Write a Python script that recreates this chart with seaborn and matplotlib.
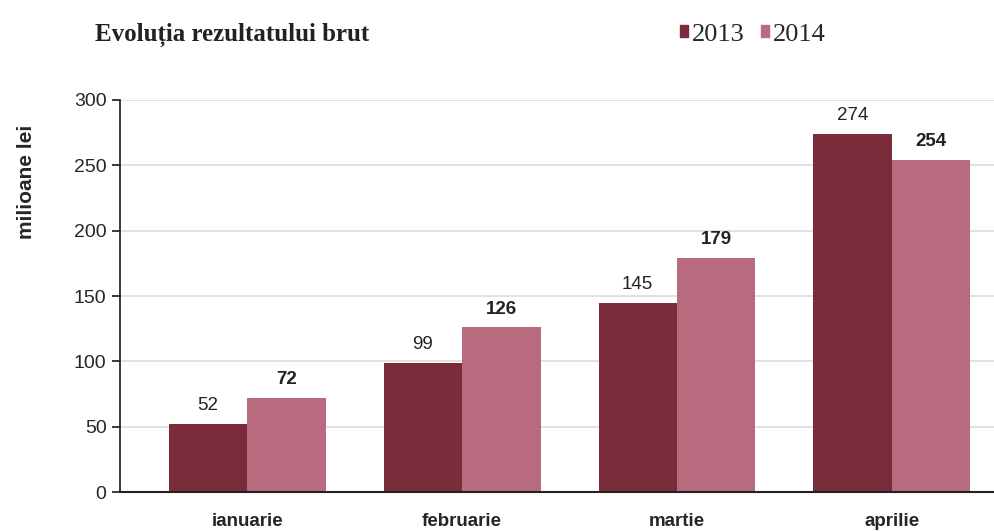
import pandas as pd
import matplotlib
matplotlib.use("Agg")
import matplotlib.pyplot as plt
import seaborn as sns

# data
luni = ["ianuarie", "februarie", "martie", "aprilie"]
ani = ["2013", "2014"]
val_2013 = [52, 99, 145, 274]
val_2014 = [72, 126, 179, 254]

culori = {"2013": "#7b2c3a", "2014": "#b86a7e"}

df = pd.DataFrame({
    "luna": luni * 2,
    "an": ["2013"] * len(luni) + ["2014"] * len(luni),
    "valoare": val_2013 + val_2014,
})

sns.set_theme(style="white")
plt.rcParams["font.family"] = ["Liberation Sans", "DejaVu Sans"]

fig = plt.figure(figsize=(9.95, 5.31), dpi=100)
ax = fig.add_axes([0.121, 0.073, 0.879, 0.739])

sns.barplot(data=df, x="luna", y="valoare", hue="an", order=luni, hue_order=ani,
            palette=culori, width=0.73, gap=0, saturation=1, ax=ax,
            edgecolor="none", legend=False)

ax.set_ylim(0, 300)
ax.set_xlim(-0.59, 3.48)
ax.set_yticks(range(0, 301, 50))
ax.yaxis.grid(True, color="#dcdcdc", linewidth=1.2)
ax.set_axisbelow(True)
for s in ["top", "right"]:
    ax.spines[s].set_visible(False)
ax.spines["left"].set_color("#222222")
ax.spines["bottom"].set_color("#222222")
ax.spines["bottom"].set_linewidth(1.5)
ax.tick_params(axis="y", left=True, length=6, color="#222222", labelsize=14, pad=4)
ax.tick_params(axis="x", bottom=False, labelsize=13.5, pad=9)
for t in ax.get_xticklabels():
    t.set_fontweight("bold")
ax.set_xlabel("")
ax.set_ylabel("milioane lei", fontsize=15, fontweight="bold")
ax.yaxis.set_label_coords(-0.097, 0.79)

# value labels: 2013 normal, 2014 bold
for cont, w in zip(ax.containers, ["normal", "bold"]):
    ax.bar_label(cont, fontsize=13.5, fontweight=w, padding=7, color="#222222")

fig.text(0.095, 0.935, "Evoluția rezultatului brut", family="Liberation Serif",
         fontsize=18, fontweight="bold", color="#222222", va="center")

handles = [plt.Rectangle((0, 0), 1, 1, color=culori[a]) for a in ani]
fig.legend(handles, ani, loc="center left", bbox_to_anchor=(0.66, 0.935), ncol=2,
           frameon=False, prop={"family": "Liberation Serif", "size": 19},
           handlelength=0.3, handleheight=0.3, handletextpad=0.15, columnspacing=0.6)

fig.savefig("out.png", dpi=100)
